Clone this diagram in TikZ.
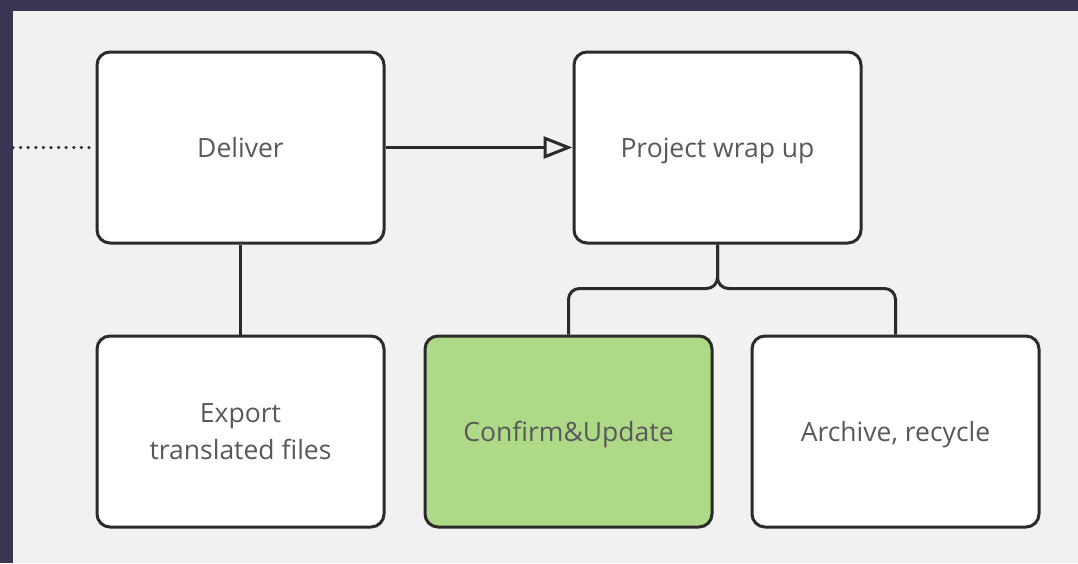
\documentclass[tikz,border=0pt]{standalone}
\usepackage{fontspec}
\setmainfont{Open Sans}
\usetikzlibrary{arrows.meta}
\definecolor{framec}{HTML}{3B3553}
\definecolor{bgc}{HTML}{F1F1F1}
\definecolor{linec}{HTML}{2B2B2B}
\definecolor{textc}{HTML}{595959}
\definecolor{greenc}{HTML}{AED987}
\tikzset{
  box/.style={draw=linec, line width=3pt, rounded corners=13pt, fill=white,
    minimum width=287pt, minimum height=191pt, align=center, inner sep=0pt,
    text=textc, font=\fontsize{26.5}{37}\selectfont},
  oneline/.style={text height=22pt, text depth=3pt},
  conn/.style={draw=linec, line width=3pt},
}
\begin{document}
\begin{tikzpicture}[x=1pt,y=-1pt]
\fill[framec] (0,0) rectangle (1078,563);
\fill[bgc] (13,11) rectangle (1078,563);
\useasboundingbox (0,0) rectangle (1078,563);
\node[box, oneline] (deliver) at (240.5,147.5) {Deliver};
\node[box, oneline] (wrap) at (717.5,147.5) {Project wrap up};
\node[box] (export) at (240.5,431.5) {Export\\translated files};
\node[box, oneline, fill=greenc] (confirm) at (568.5,431.5) {Confirm\&Update};
\node[box, oneline] (archive) at (895.5,431.5) {Archive, recycle};
\coordinate (start) at (13,147.5);
\draw[conn, line cap=round, line width=3.5pt, dash pattern=on 0pt off 7.6pt] (start) -- (deliver.west);
\draw[conn, -{Triangle[open, length=29pt, width=22pt, line width=3pt]}] (deliver.east) -- (wrap.west);
\draw[conn] (deliver.south) -- (export.north);
\draw[conn, rounded corners=11pt] (wrap.south) |- ([yshift=46pt]confirm.north) -- (confirm.north);
\draw[conn, rounded corners=11pt] (wrap.south) |- ([yshift=46pt]archive.north) -- (archive.north);
\end{tikzpicture}
\end{document}
